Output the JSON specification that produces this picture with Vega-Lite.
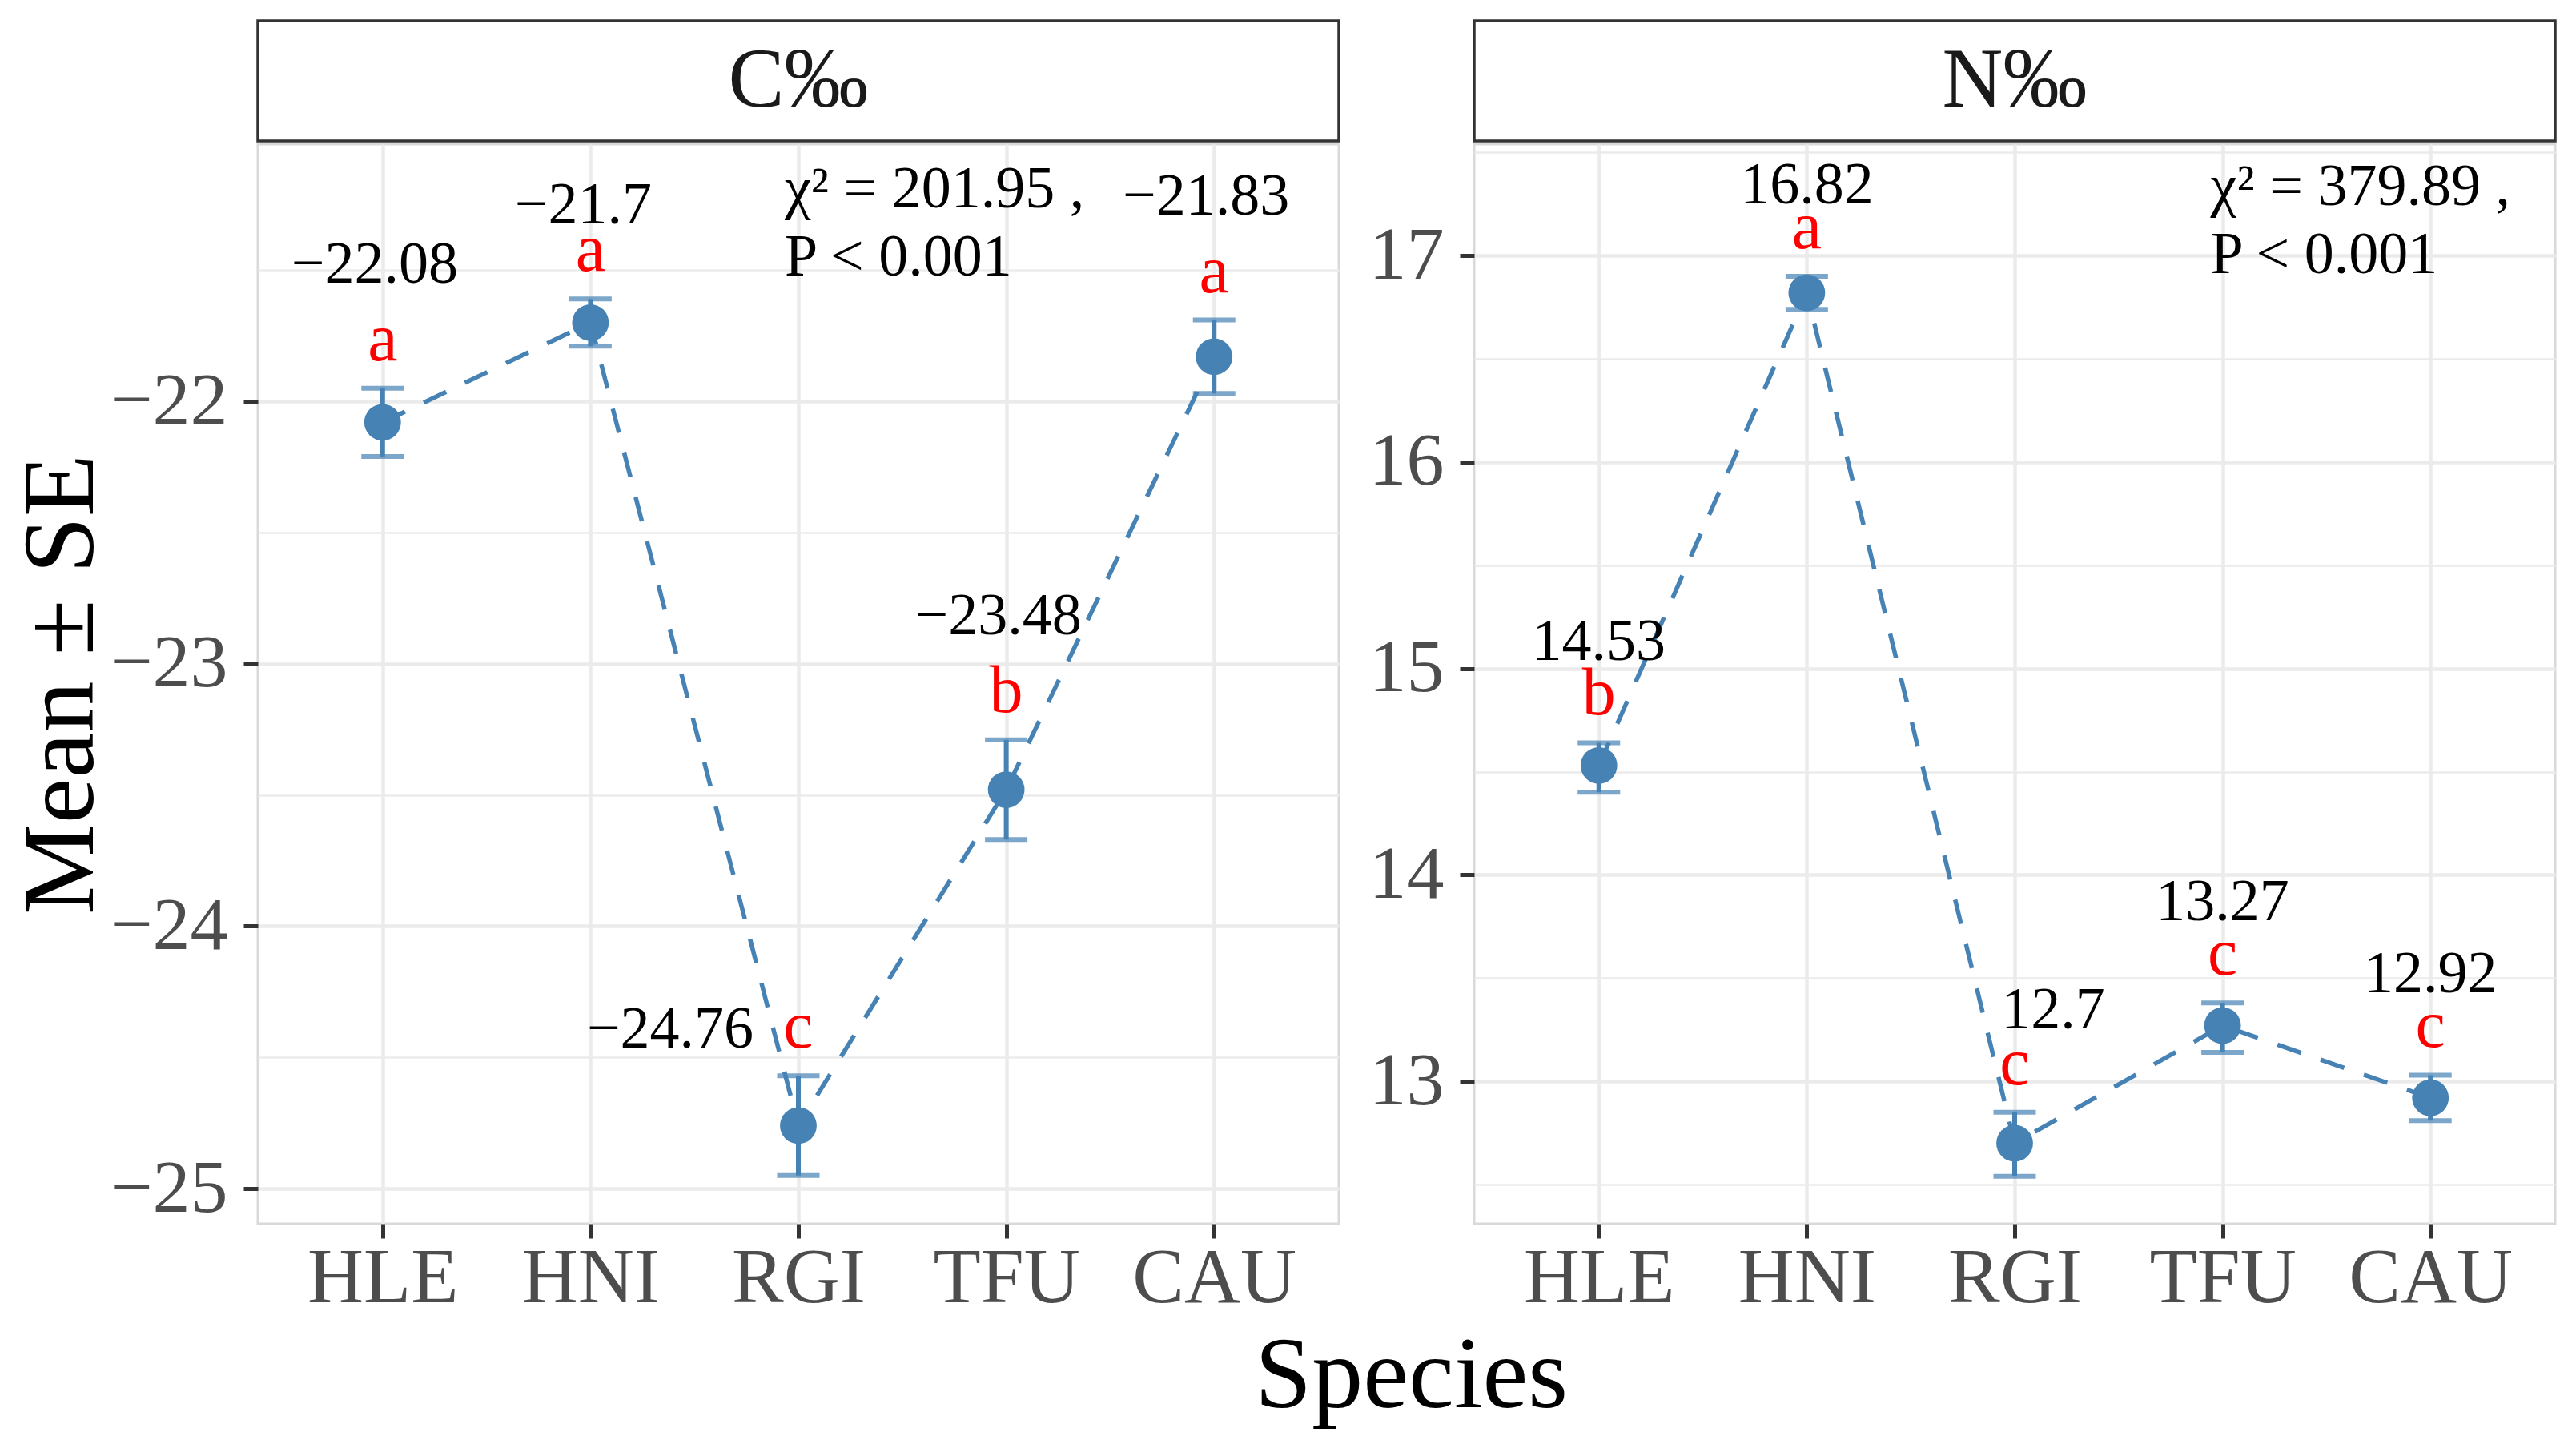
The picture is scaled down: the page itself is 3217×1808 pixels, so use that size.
{
  "$schema": "https://vega.github.io/schema/vega-lite/v6.json",
  "background": "white",
  "padding": {"left": 12, "top": 24, "right": 20, "bottom": 20},
  "datasets": {
    "stats": [
      {"panel": "C", "species": "HLE", "mean": -22.08, "lo": -22.21, "hi": -21.95, "letter": "a"},
      {"panel": "C", "species": "HNI", "mean": -21.70, "lo": -21.79, "hi": -21.61, "letter": "a"},
      {"panel": "C", "species": "RGI", "mean": -24.76, "lo": -24.95, "hi": -24.57, "letter": "c"},
      {"panel": "C", "species": "TFU", "mean": -23.48, "lo": -23.67, "hi": -23.29, "letter": "b"},
      {"panel": "C", "species": "CAU", "mean": -21.83, "lo": -21.97, "hi": -21.69, "letter": "a"},
      {"panel": "N", "species": "HLE", "mean": 14.53, "lo": 14.40, "hi": 14.64, "letter": "b"},
      {"panel": "N", "species": "HNI", "mean": 16.82, "lo": 16.74, "hi": 16.90, "letter": "a"},
      {"panel": "N", "species": "RGI", "mean": 12.70, "lo": 12.54, "hi": 12.85, "letter": "c"},
      {"panel": "N", "species": "TFU", "mean": 13.27, "lo": 13.14, "hi": 13.38, "letter": "c"},
      {"panel": "N", "species": "CAU", "mean": 12.92, "lo": 12.81, "hi": 13.03, "letter": "c"}
    ],
    "notes": [
      {"panel": "C", "note": "χ² = 201.95 ,\nP < 0.001"},
      {"panel": "N", "note": "χ² = 379.89 ,\nP < 0.001"}
    ]
  },
  "title": {"text": "Species", "orient": "bottom", "anchor": "middle", "fontSize": 128, "font": "Liberation Serif", "fontWeight": "normal", "color": "black", "offset": 10, "dx": 160},
  "columns": 2,
  "spacing": {"row": 0, "column": 33},
  "concat": [
    {
      "width": 1350, "height": 150,
      "view": {"stroke": "#333333", "strokeWidth": 3.5, "fill": "white"},
      "data": {"values": [{"strip": "C‰"}]},
      "mark": {"type": "text", "font": "Liberation Serif", "fontSize": 105, "color": "#1A1A1A", "baseline": "middle"},
      "encoding": {"text": {"field": "strip", "type": "nominal"}}
    },
    {
      "width": 1350, "height": 150,
      "view": {"stroke": "#333333", "strokeWidth": 3.5, "fill": "white"},
      "data": {"values": [{"strip": "N‰"}]},
      "mark": {"type": "text", "font": "Liberation Serif", "fontSize": 105, "color": "#1A1A1A", "baseline": "middle"},
      "encoding": {"text": {"field": "strip", "type": "nominal"}}
    },
    {
      "width": 1350, "height": 1348,
      "data": {"name": "stats"},
      "transform": [{"filter": "datum.panel === 'C'"}],
      "encoding": {
        "x": {"field": "species", "type": "nominal", "scale": {"type": "point", "domain": ["HLE", "HNI", "RGI", "TFU", "CAU"], "padding": 0.6}, "axis": {"title": null, "grid": true, "labelAngle": 0}}
      },
      "layer": [
        {
          "mark": {"type": "line", "color": "#4682B4", "strokeWidth": 5.5, "strokeDash": [31, 26]},
          "encoding": {
            "y": {"field": "mean", "type": "quantitative", "scale": {"domain": [-25.134, -21.02], "nice": false, "zero": false},
              "axis": {"title": "Mean ± SE", "titlePadding": -6,
                "values": [-25, -24.5, -24, -23.5, -23, -22.5, -22, -21.5],
                "labelExpr": "datum.value % 1 === 0 ? format(datum.value, 'd') : ''",
                "gridWidth": {"condition": {"test": "datum.value % 1 === 0", "value": 4.5}, "value": 2.5},
                "tickOpacity": {"condition": {"test": "datum.value % 1 === 0", "value": 1}, "value": 0}}},
            "order": {"value": null}
          }
        },
        {"mark": {"type": "rule", "color": "#4682B4", "strokeWidth": 6}, "encoding": {"y": {"field": "lo", "type": "quantitative"}, "y2": {"field": "hi"}}},
        {"mark": {"type": "tick", "color": "#4682B4", "thickness": 6, "size": 53, "orient": "horizontal"}, "encoding": {"y": {"field": "lo", "type": "quantitative"}}},
        {"mark": {"type": "tick", "color": "#4682B4", "thickness": 6, "size": 53, "orient": "horizontal"}, "encoding": {"y": {"field": "hi", "type": "quantitative"}}},
        {"mark": {"type": "circle", "color": "#4682B4", "size": 2100, "opacity": 1}, "encoding": {"y": {"field": "mean", "type": "quantitative"}}},
        {"mark": {"type": "text", "color": "#FF0000", "font": "Liberation Serif", "fontSize": 84, "baseline": "alphabetic", "dy": -35},
         "encoding": {"y": {"field": "hi", "type": "quantitative"}, "text": {"field": "letter", "type": "nominal"}}},
        {"transform": [{"filter": "datum.species !== 'HNI' && datum.species !== 'RGI'"}],
         "mark": {"type": "text", "color": "black", "font": "Liberation Serif", "fontSize": 74, "baseline": "alphabetic", "dy": -132, "dx": -10},
         "encoding": {"y": {"field": "hi", "type": "quantitative"}, "text": {"field": "mean", "type": "quantitative", "format": ".2~f"}}},
        {"transform": [{"filter": "datum.species === 'HNI'"}],
         "mark": {"type": "text", "color": "black", "font": "Liberation Serif", "fontSize": 74, "baseline": "alphabetic", "dy": -94, "dx": -9},
         "encoding": {"y": {"field": "hi", "type": "quantitative"}, "text": {"field": "mean", "type": "quantitative", "format": ".2~f"}}},
        {"transform": [{"filter": "datum.species === 'RGI'"}],
         "mark": {"type": "text", "color": "black", "font": "Liberation Serif", "fontSize": 74, "baseline": "alphabetic", "dy": -35, "dx": -160},
         "encoding": {"y": {"field": "hi", "type": "quantitative"}, "text": {"field": "mean", "type": "quantitative", "format": ".2~f"}}},
        {"data": {"name": "notes"}, "transform": [{"filter": "datum.panel === 'C'"}],
         "mark": {"type": "text", "color": "black", "font": "Liberation Serif", "fontSize": 74, "align": "left", "baseline": "alphabetic", "lineBreak": "\n", "lineHeight": 85, "dx": -17},
         "encoding": {"x": {"datum": "RGI"}, "y": {"datum": -21.262}, "text": {"field": "note", "type": "nominal"}}}
      ]
    },
    {
      "width": 1350, "height": 1348,
      "data": {"name": "stats"},
      "transform": [{"filter": "datum.panel === 'N'"}],
      "encoding": {
        "x": {"field": "species", "type": "nominal", "scale": {"type": "point", "domain": ["HLE", "HNI", "RGI", "TFU", "CAU"], "padding": 0.6}, "axis": {"title": null, "grid": true, "labelAngle": 0}}
      },
      "layer": [
        {
          "mark": {"type": "line", "color": "#4682B4", "strokeWidth": 5.5, "strokeDash": [31, 26]},
          "encoding": {
            "y": {"field": "mean", "type": "quantitative", "scale": {"domain": [12.31, 17.54], "nice": false, "zero": false},
              "axis": {"title": null,
                "values": [12.5, 13, 13.5, 14, 14.5, 15, 15.5, 16, 16.5, 17, 17.5],
                "labelExpr": "datum.value % 1 === 0 ? format(datum.value, 'd') : ''",
                "gridWidth": {"condition": {"test": "datum.value % 1 === 0", "value": 4.5}, "value": 2.5},
                "tickOpacity": {"condition": {"test": "datum.value % 1 === 0", "value": 1}, "value": 0}}},
            "order": {"value": null}
          }
        },
        {"mark": {"type": "rule", "color": "#4682B4", "strokeWidth": 6}, "encoding": {"y": {"field": "lo", "type": "quantitative"}, "y2": {"field": "hi"}}},
        {"mark": {"type": "tick", "color": "#4682B4", "thickness": 6, "size": 53, "orient": "horizontal"}, "encoding": {"y": {"field": "lo", "type": "quantitative"}}},
        {"mark": {"type": "tick", "color": "#4682B4", "thickness": 6, "size": 53, "orient": "horizontal"}, "encoding": {"y": {"field": "hi", "type": "quantitative"}}},
        {"mark": {"type": "circle", "color": "#4682B4", "size": 2100, "opacity": 1}, "encoding": {"y": {"field": "mean", "type": "quantitative"}}},
        {"mark": {"type": "text", "color": "#FF0000", "font": "Liberation Serif", "fontSize": 84, "baseline": "alphabetic", "dy": -35},
         "encoding": {"y": {"field": "hi", "type": "quantitative"}, "text": {"field": "letter", "type": "nominal"}}},
        {"transform": [{"filter": "datum.species !== 'HNI' && datum.species !== 'RGI'"}],
         "mark": {"type": "text", "color": "black", "font": "Liberation Serif", "fontSize": 74, "baseline": "alphabetic", "dy": -103},
         "encoding": {"y": {"field": "hi", "type": "quantitative"}, "text": {"field": "mean", "type": "quantitative", "format": ".2~f"}}},
        {"transform": [{"filter": "datum.species === 'HNI'"}],
         "mark": {"type": "text", "color": "black", "font": "Liberation Serif", "fontSize": 74, "baseline": "alphabetic", "dy": -91},
         "encoding": {"y": {"field": "hi", "type": "quantitative"}, "text": {"field": "mean", "type": "quantitative", "format": ".2~f"}}},
        {"transform": [{"filter": "datum.species === 'RGI'"}],
         "mark": {"type": "text", "color": "black", "font": "Liberation Serif", "fontSize": 74, "baseline": "alphabetic", "dy": -105, "dx": 48},
         "encoding": {"y": {"field": "hi", "type": "quantitative"}, "text": {"field": "mean", "type": "quantitative", "format": ".2~f"}}},
        {"data": {"name": "notes"}, "transform": [{"filter": "datum.panel === 'N'"}],
         "mark": {"type": "text", "color": "black", "font": "Liberation Serif", "fontSize": 74, "align": "left", "baseline": "alphabetic", "lineBreak": "\n", "lineHeight": 85, "dx": -15},
         "encoding": {"x": {"datum": "TFU"}, "y": {"datum": 17.245}, "text": {"field": "note", "type": "nominal"}}}
      ]
    }
  ],
  "config": {
    "font": "Liberation Serif",
    "axis": {"labelFont": "Liberation Serif", "labelFontSize": 94, "labelColor": "#4D4D4D", "labelLimit": 0, "tickColor": "#333333", "tickWidth": 5, "tickSize": 18, "labelPadding": 20, "domain": false, "grid": true, "gridColor": "#EBEBEB", "gridWidth": 4.5, "titleFont": "Liberation Serif", "titleFontSize": 128, "titleFontWeight": "normal", "titleColor": "black"},
    "axisX": {"labelPadding": 2, "labelFontSize": 97},
    "view": {"stroke": "#D9D9D9", "strokeWidth": 3}
  }
}
